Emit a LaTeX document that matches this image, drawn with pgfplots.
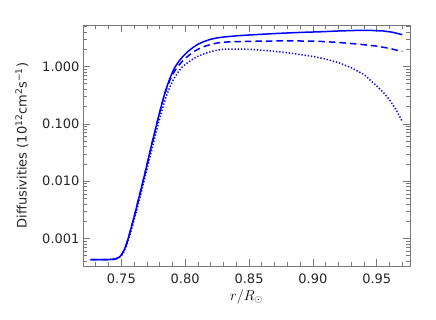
\documentclass[border=0pt]{standalone}
\usepackage{pgfplots}
\pgfplotsset{compat=1.18}
\usepackage{fontspec}
\setmainfont{DejaVu Sans}
\definecolor{axgray}{RGB}{120,120,120}
\definecolor{lineblue}{RGB}{0,0,255}
\begin{document}
\begin{tikzpicture}
\useasboundingbox (-83pt,-53pt) rectangle (353pt,266pt);
\begin{axis}[
  at={(0pt,0pt)}, anchor=south west,
  scale only axis, width=327pt, height=241pt,
  xmin=0.72, xmax=0.976,
  ymode=log, ymin=3.32e-4, ymax=5.3,
  xtick={0.75,0.80,0.85,0.90,0.95},
  xticklabels={0.75,0.80,0.85,0.90,0.95},
  minor xtick={0.73,0.74,0.76,0.77,0.78,0.79,0.81,0.82,0.83,0.84,0.86,0.87,0.88,0.89,0.91,0.92,0.93,0.94,0.96,0.97},
  ytick={0.001,0.01,0.1,1},
  yticklabels={0.001,0.010,0.100,1.000},
  minor ytick={4e-4,5e-4,6e-4,7e-4,8e-4,9e-4,2e-3,3e-3,4e-3,5e-3,6e-3,7e-3,8e-3,9e-3,2e-2,3e-2,4e-2,5e-2,6e-2,7e-2,8e-2,9e-2,0.2,0.3,0.4,0.5,0.6,0.7,0.8,0.9,2,3,4,5},
  tick align=inside,
  major tick length=7pt, minor tick length=4pt,
  axis line style={axgray, line width=0.9pt},
  every tick/.style={axgray, line width=0.7pt},
  ticklabel style={font=\fontsize{13}{13}\selectfont, text=black!85},
  xticklabel style={yshift=-4pt},
  xlabel={$r/R_\odot$},
  xlabel style={at={(axis description cs:0.5,-0.129)}, anchor=center, font=\fontsize{14}{14}\selectfont},
  ylabel={Diffusivities\ (10\textsuperscript{12}cm\textsuperscript{2}s\textsuperscript{−1})},
  ylabel style={at={(axis description cs:-0.187,0.5)}, anchor=center, rotate=0, font=\fontsize{13}{13}\selectfont, text=black!85},
  clip=true,
]
\addplot[lineblue, line width=1.5pt] coordinates {
(0.726,4.30e-4) (0.740,4.30e-4) (0.745,4.37e-4) (0.748,4.68e-4) (0.750,5.13e-4)
(0.752,6.17e-4) (0.754,7.94e-4) (0.756,1.12e-3) (0.758,1.62e-3) (0.760,2.40e-3)
(0.762,3.55e-3) (0.764,5.37e-3) (0.766,8.13e-3) (0.768,1.23e-2) (0.770,1.91e-2)
(0.772,2.95e-2) (0.774,4.57e-2) (0.776,6.92e-2) (0.778,0.105) (0.780,0.158)
(0.782,0.234) (0.784,0.339) (0.786,0.468) (0.788,0.617) (0.790,0.794)
(0.792,0.977) (0.795,1.23) (0.798,1.48) (0.802,1.82) (0.806,2.14)
(0.810,2.45) (0.815,2.75) (0.820,2.99) (0.825,3.16) (0.830,3.27)
(0.840,3.43) (0.850,3.55) (0.870,3.76) (0.890,3.94) (0.905,4.03)
(0.920,4.17) (0.935,4.27) (0.945,4.27) (0.955,4.17) (0.962,3.98) (0.970,3.60)
};
\addplot[lineblue, line width=1.5pt, dash pattern=on 6.5pt off 4pt] coordinates {
(0.726,4.30e-4) (0.740,4.30e-4) (0.745,4.37e-4) (0.748,4.68e-4) (0.750,5.13e-4)
(0.752,6.17e-4) (0.754,7.94e-4) (0.756,1.12e-3) (0.758,1.62e-3) (0.760,2.40e-3)
(0.762,3.55e-3) (0.764,5.37e-3) (0.766,8.13e-3) (0.768,1.23e-2) (0.770,1.91e-2)
(0.772,2.95e-2) (0.774,4.57e-2) (0.776,6.92e-2) (0.778,0.105) (0.780,0.158)
(0.782,0.234) (0.784,0.331) (0.786,0.447) (0.788,0.575) (0.790,0.708)
(0.792,0.851) (0.795,1.05) (0.798,1.25) (0.802,1.51) (0.806,1.78)
(0.810,2.00) (0.815,2.24) (0.820,2.43) (0.825,2.57) (0.830,2.66)
(0.840,2.72) (0.850,2.75) (0.870,2.79) (0.890,2.79) (0.905,2.75)
(0.920,2.63) (0.931,2.51) (0.940,2.40) (0.950,2.27) (0.960,2.07) (0.970,1.83)
};
\addplot[lineblue, line width=1.5pt, dash pattern=on 1.3pt off 1.9pt] coordinates {
(0.726,4.30e-4) (0.740,4.30e-4) (0.745,4.35e-4) (0.748,4.60e-4) (0.750,5.01e-4)
(0.752,5.89e-4) (0.754,7.41e-4) (0.756,1.02e-3) (0.758,1.45e-3) (0.760,2.09e-3)
(0.762,3.09e-3) (0.764,4.57e-3) (0.766,6.92e-3) (0.768,1.05e-2) (0.770,1.58e-2)
(0.772,2.40e-2) (0.774,3.63e-2) (0.776,5.50e-2) (0.778,8.32e-2) (0.780,0.123)
(0.782,0.178) (0.784,0.251) (0.786,0.339) (0.788,0.437) (0.790,0.550)
(0.792,0.661) (0.795,0.832) (0.798,1.00) (0.802,1.17) (0.806,1.35)
(0.810,1.51) (0.815,1.68) (0.820,1.82) (0.825,1.93) (0.830,2.00)
(0.835,2.02) (0.840,2.02) (0.850,2.00) (0.860,1.93) (0.870,1.84)
(0.880,1.74) (0.890,1.62) (0.900,1.50) (0.910,1.35) (0.920,1.17)
(0.930,0.955) (0.940,0.724) (0.950,0.457) (0.955,0.355) (0.960,0.263)
(0.965,0.178) (0.970,0.110)
};
\end{axis}
\end{tikzpicture}
\end{document}
